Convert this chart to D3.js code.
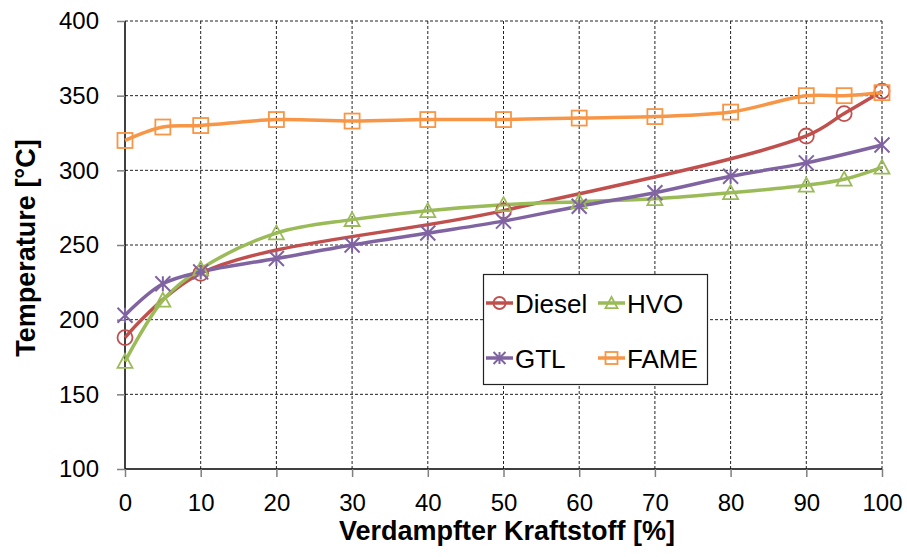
<!DOCTYPE html>
<html>
<head>
<meta charset="utf-8">
<script src="https://cdn.jsdelivr.net/npm/d3@7"></script>
<style>
  html, body { margin: 0; padding: 0; background: #fff; }
  svg { display: block; font-family: "Liberation Sans", Arial, sans-serif; }
</style>
</head>
<body>
<svg id="chart" width="907" height="557"></svg>
<script>
// Distillation curves: boiling temperature vs. evaporated fraction
const dieselPct = [0, 10, 50, 90, 95, 100];
const dieselTemp = [188, 231, 273, 323, 338, 353];

const hvoPct = [0, 5, 10, 20, 30, 40, 50, 60, 70, 80, 90, 95, 100];
const hvoTemp = [172, 213, 234, 258, 267, 273, 277, 279, 281, 285, 290, 294, 302];

const gtlPct = [0, 5, 10, 20, 30, 40, 50, 60, 70, 80, 90, 100];
const gtlTemp = [203, 224, 232, 241, 250, 258, 266, 276, 285, 296, 305, 317];

const famePct = [0, 5, 10, 20, 30, 40, 50, 60, 70, 80, 90, 95, 100];
const fameTemp = [320, 329, 330, 334, 333, 334, 334, 335, 336, 339, 350, 350, 352];

const xTicks = [0, 10, 20, 30, 40, 50, 60, 70, 80, 90, 100];
const yTicks = [100, 150, 200, 250, 300, 350, 400];

const seriesNames = ["Diesel", "HVO", "GTL", "FAME"];

const series = [
  { name: "Diesel", pct: dieselPct, temp: dieselTemp, color: "#C0504D", marker: "circle" },
  { name: "HVO",    pct: hvoPct,    temp: hvoTemp,    color: "#9BBB59", marker: "triangle" },
  { name: "GTL",    pct: gtlPct,    temp: gtlTemp,    color: "#8064A2", marker: "star" },
  { name: "FAME",   pct: famePct,   temp: fameTemp,   color: "#F79646", marker: "square" }
];

const svg = d3.select("#chart");
const x = d3.scaleLinear().domain([0, 100]).range([125, 882]);
const y = d3.scaleLinear().domain([100, 400]).range([469, 21]);

// Dashed grid
const grid = svg.append("g");
grid.selectAll("line.v").data(xTicks.filter(d => d > 0)).enter().append("line")
  .attr("x1", d => x(d)).attr("x2", d => x(d))
  .attr("y1", y(400)).attr("y2", y(100))
  .attr("stroke", "#222").attr("stroke-width", 1).attr("stroke-dasharray", "3,2");
grid.selectAll("line.h").data(yTicks.filter(d => d > 100)).enter().append("line")
  .attr("x1", x(0)).attr("x2", x(100))
  .attr("y1", d => y(d)).attr("y2", d => y(d))
  .attr("stroke", "#222").attr("stroke-width", 1).attr("stroke-dasharray", "3,2");

// Axes
const yAxis = svg.append("g").attr("transform", `translate(${x(0)},0)`)
  .call(d3.axisLeft(y).tickValues(yTicks).tickSize(8).tickPadding(18));
const xAxis = svg.append("g").attr("transform", `translate(0,${y(100)})`)
  .call(d3.axisBottom(x).tickValues(xTicks).tickSize(8).tickPadding(17));
[yAxis, xAxis].forEach(a => {
  a.select(".domain").attr("stroke", "#000").attr("stroke-width", 1.5);
  a.selectAll(".tick line").attr("stroke", "#808080").attr("stroke-width", 1.5);
  a.selectAll(".tick text").attr("fill", "#000")
    .style("font-size", "24px").style("font-family", "\"Liberation Sans\", Arial, sans-serif");
});
yAxis.select(".domain").attr("d", `M0,${y(400)}V${y(100)}`);
xAxis.select(".domain").attr("d", `M${x(0)},0H${x(100)}`);

// Axis titles
svg.append("text")
  .attr("x", 507).attr("y", 540)
  .attr("text-anchor", "middle")
  .style("font-size", "27px").style("font-weight", "bold")
  .text("Verdampfter Kraftstoff [%]");
svg.append("text")
  .attr("transform", `translate(35,${(y(100) + y(400)) / 2 + 3}) rotate(-90)`)
  .attr("text-anchor", "middle")
  .style("font-size", "27px").style("font-weight", "bold")
  .text("Temperature [°C]");

// Marker shapes
function drawMarker(g, type, cx, cy, color, s) {
  const h = s / 2;
  if (type === "circle") {
    g.append("circle").attr("cx", cx).attr("cy", cy).attr("r", h)
      .attr("fill", "none").attr("stroke", color).attr("stroke-width", 1.8);
  } else if (type === "square") {
    g.append("rect").attr("x", cx - h).attr("y", cy - h).attr("width", s).attr("height", s)
      .attr("fill", "none").attr("stroke", color).attr("stroke-width", 1.8);
  } else if (type === "triangle") {
    g.append("path")
      .attr("d", `M${cx},${cy - h}L${cx + h},${cy + h * 0.85}L${cx - h},${cy + h * 0.85}Z`)
      .attr("fill", "none").attr("stroke", color).attr("stroke-width", 1.8);
  } else if (type === "star") {
    g.append("path")
      .attr("d", `M${cx - h},${cy - h}L${cx + h},${cy + h}M${cx - h},${cy + h}L${cx + h},${cy - h}M${cx},${cy - h}L${cx},${cy + h}`)
      .attr("fill", "none").attr("stroke", color).attr("stroke-width", 2);
  }
}

// Smoothed lines (centripetal Catmull-Rom)
const line = d3.line()
  .x(d => x(d[0])).y(d => y(d[1]))
  .curve(d3.curveCatmullRom.alpha(0.5));

const plot = svg.append("g");
series.forEach(s => {
  const pts = s.pct.map((p, i) => [p, s.temp[i]]);
  plot.append("path").datum(pts).attr("d", line)
    .attr("fill", "none").attr("stroke", s.color).attr("stroke-width", 3.5)
    .attr("stroke-linejoin", "round");
});
series.forEach(s => {
  const g = plot.append("g");
  s.pct.forEach((p, i) => drawMarker(g, s.marker, x(p), y(s.temp[i]), s.color, 15));
});

// Legend
const legend = svg.append("g");
legend.append("rect").attr("x", 483.5).attr("y", 274.5).attr("width", 224).attr("height", 110)
  .attr("fill", "#fff").attr("stroke", "#222").attr("stroke-width", 1.2);
const legendPos = [
  { lx: 486, ly: 303 }, { lx: 598, ly: 303 },
  { lx: 486, ly: 358 }, { lx: 598, ly: 358 }
];
seriesNames.forEach((name, i) => {
  const s = series.find(d => d.name === name);
  const p = legendPos[i];
  legend.append("line").attr("x1", p.lx).attr("x2", p.lx + 27)
    .attr("y1", p.ly).attr("y2", p.ly)
    .attr("stroke", s.color).attr("stroke-width", 3.5);
  drawMarker(legend, s.marker, p.lx + 13.5, p.ly, s.color, 12);
  legend.append("text").attr("x", p.lx + 29).attr("y", p.ly + 9.5)
    .style("font-size", "26px").attr("fill", "#000").text(name);
});
</script>
</body>
</html>
